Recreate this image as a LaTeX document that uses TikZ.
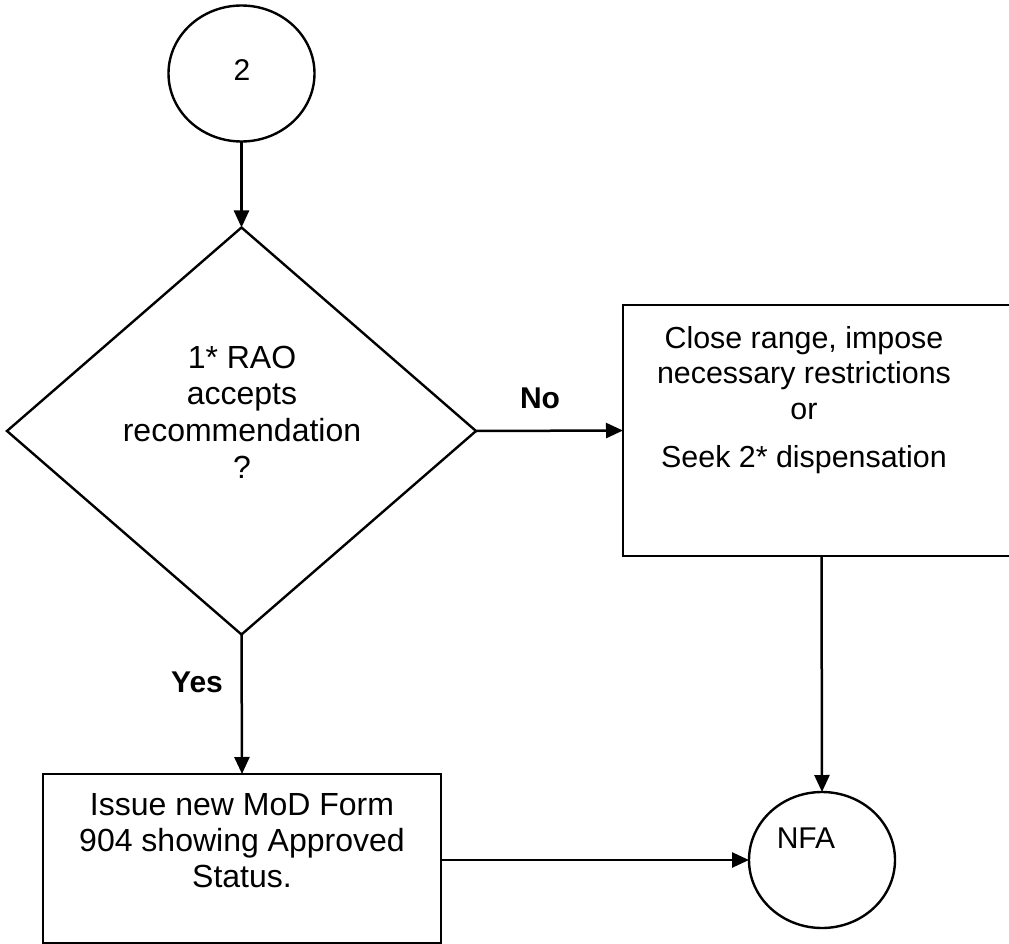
\documentclass[tikz,border=0pt]{standalone}
\usepackage{fontspec}
\setmainfont{Liberation Sans}
\usetikzlibrary{arrows.meta,shapes.geometric}
\begin{document}
\begin{tikzpicture}[x=1pt,y=-1pt,
  font=\fontsize{30}{36}\selectfont,
  every node/.style={inner sep=0pt, outer sep=0pt},
  shapeline/.style={draw=black, line width=2.4pt},
  connector/.style={line width=2.5pt, -{Triangle[length=17pt,width=15pt]}},
  termcircle/.style={shapeline, ellipse, minimum width=146pt, minimum height=136pt},
  procbox/.style={shapeline, rectangle},
  lbl/.style={font=\fontsize{30}{36}\selectfont\bfseries}
]
\useasboundingbox (0,0) rectangle (1009,944);
\clip (0,0) rectangle (1009,944);

% start connector circle
\node[termcircle] (c2) at (241.5,73.5) {};
\node (c2t) at (242,70) {2};

% decision diamond
\node[shapeline, diamond, minimum width=469pt, minimum height=407pt] (dia) at (241.5,431) {};
\node[align=center, font=\fontsize{32}{36.7}\selectfont] (diat) at (242,412) {1* RAO\\accepts\\recommendation\\?};

% right process box
\node[procbox, minimum width=397pt, minimum height=251pt] (rbox) at (821.5,430.5) {};
\node[align=center, font=\fontsize{30.4}{35.5}\selectfont] (rboxt) at (804,400) {Close range, impose\\necessary restrictions\\or\\[13pt]Seek 2* dispensation};

% bottom process box
\node[procbox, minimum width=398pt, minimum height=169pt] (bbox) at (242,858.5) {};
\node[align=center, font=\fontsize{32}{36}\selectfont] (bboxt) at (242,841) {Issue new MoD Form\\904 showing Approved\\Status.};

% end connector circle
\node[termcircle] (nfa) at (822,860) {};
\node (nfat) at (806,838) {NFA};

% connectors
\draw[connector] (c2.south) -- (dia.north);
\draw[connector] (dia.east) -- (rbox.west);
\draw[connector] (dia.south) -- (bbox.north);
\draw[connector] (rbox.south) -- (nfa.north);
\draw[connector] (bbox.east |- nfa.west) -- (nfa.west);

% labels
\node[lbl] (nolbl) at (540,398) {No};
\node[lbl] (yeslbl) at (197,682) {Yes};
\end{tikzpicture}
\end{document}
